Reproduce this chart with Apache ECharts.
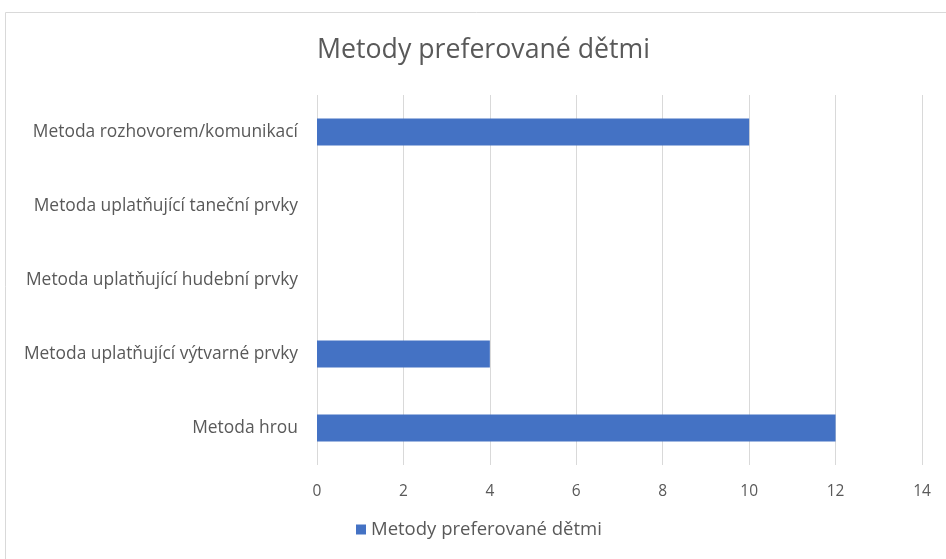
<!DOCTYPE html>
<html>
<head>
<meta charset="utf-8">
<script src="https://cdn.jsdelivr.net/npm/echarts@6/dist/echarts.min.js"></script>
<style>html,body{margin:0;padding:0;background:#fff}#c{width:946px;height:559px}</style>
</head>
<body>
<div id="c"></div>
<script>
const categories = ["Metoda hrou", "Metoda uplatňující výtvarné prvky", "Metoda uplatňující hudební prvky", "Metoda uplatňující taneční prvky", "Metoda rozhovorem/komunikací"];
const values = [12, 4, 0, 0, 10];
const seriesName = "Metody preferované dětmi";
const titleText = "Metody preferované dětmi";

const chart = echarts.init(document.getElementById('c'), null, {renderer: 'canvas'});
const font = "'Open Sans', 'Liberation Sans', sans-serif";
chart.setOption({
  animation: false,
  backgroundColor: '#fff',
  graphic: [{type: 'rect', shape: {x: 5.5, y: 12.5, width: 960, height: 560}, style: {fill: 'none', stroke: '#d9d9d9', lineWidth: 1}, silent: true}],
  title: {text: titleText, left: 312, top: 32, textStyle: {fontFamily: font, fontSize: 26.7, fontWeight: 'normal', color: '#595959'}},
  legend: {bottom: 15, left: 351, itemWidth: 10, itemHeight: 10, icon: 'rect', itemGap: 6, textStyle: {fontFamily: font, fontSize: 18.5, color: '#595959'}, data: [seriesName]},
  grid: {left: 317, right: 24, top: 95, bottom: 94, containLabel: false},
  xAxis: {type: 'value', min: 0, max: 14, interval: 2,
    axisLine: {show: false}, axisTick: {show: false},
    splitLine: {show: true, lineStyle: {color: '#d9d9d9', width: 1}},
    axisLabel: {fontFamily: font, fontSize: 15.5, color: '#595959', margin: 19}},
  yAxis: {type: 'category', data: categories,
    axisLine: {show: false}, axisTick: {show: false},
    axisLabel: {fontFamily: font, fontSize: 17.4, color: '#595959', margin: 19}},
  series: [{name: seriesName, type: 'bar', data: values, barWidth: 27, itemStyle: {color: '#4472C4'}}]
});
</script>
</body>
</html>
